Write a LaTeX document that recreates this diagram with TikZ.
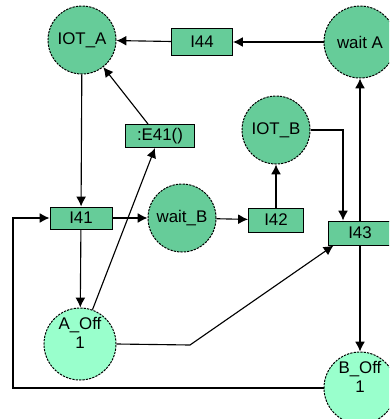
\documentclass[tikz,border=0pt]{standalone}
\usepackage{fontspec}
\setmainfont{Liberation Sans}
\usetikzlibrary{arrows.meta}
\usetikzlibrary{calc}
\usetikzlibrary{positioning}

\definecolor{placegreen}{HTML}{66CC99}
\definecolor{offgreen}{HTML}{99FFCC}

\begin{document}
\begin{tikzpicture}[x=0.025cm,y=-0.025cm,
  place/.style={circle,draw,fill=placegreen,line width=0.7pt,dash pattern=on 1.6pt off 0.8pt,inner sep=0pt,minimum size=1.7cm,font=\fontsize{12}{12}\selectfont,align=center},
  offplace/.style={place,fill=offgreen,minimum size=1.8cm},
  trans/.style={rectangle,draw,fill=placegreen,line width=0.7pt,inner sep=0pt,font=\fontsize{12}{12}\selectfont},
  arc/.style={line width=0.8pt,-{Latex[length=7pt,width=7pt]}}]
\useasboundingbox (0,0) rectangle (389,419);
\clip (0,0) rectangle (389,419);

% places
\node[place] (IOTA) at (82,40) {IOT\_A};
\node[place,minimum size=1.8cm] (waitA) at (360,42) {wait A};
\node[place] (IOTB) at (276,130) {IOT\_B};
\node[place] (waitB) at (182,218) {wait\_B};
\node[offplace] (AOff) at (80,344) {A\_Off\\[1pt]1\\[4pt]};
\node[offplace] (BOff) at (360,388) {B\_Off\\[1pt]1\\[4pt]};

% transitions
\node[trans,minimum width=1.525cm,minimum height=0.675cm] (I44) at (202,42) {I44};
\node[trans,minimum width=1.725cm,minimum height=0.575cm] (E41) at (160,136) {:E41()};
\node[trans,minimum width=1.55cm,minimum height=0.55cm] (I41) at (81,218) {I41};
\node[trans,minimum width=1.375cm,minimum height=0.6cm] (I42) at (276,220) {I42};
\node[trans,minimum width=1.6cm,minimum height=0.6cm] (I43) at (360,233) {I43};

\coordinate (bend) at (190,345);
\coordinate (low) at (13,388);

% arcs
\draw[arc] (waitA) -- (I44);
\draw[arc] (I44) -- (IOTA);
\draw[arc] ($(E41.north)+(-12,0)$) -- (IOTA);
\draw[arc] (IOTA) -- (I41);
\draw[arc] (I41) -- (waitB);
\draw[arc] (waitB) -- (I42);
\draw[arc] (I42) -- (IOTB);
\draw[arc] (IOTB.east) -| ($(I43.north)+(-17,0)$);
\draw[arc] (I43.north) -- (waitA);
\draw[arc] (I43.south) -- (BOff);
\draw[arc] (I41) -- (AOff);
\draw[arc] (AOff.70) -- ($(E41.south)+(-5,0)$);
\draw[arc] (AOff.east) -- (bend) -- ($(I43.south west)+(6,0)$);
\draw[arc] (BOff.west) -- (low) |- (I41.west);

\end{tikzpicture}
\end{document}
